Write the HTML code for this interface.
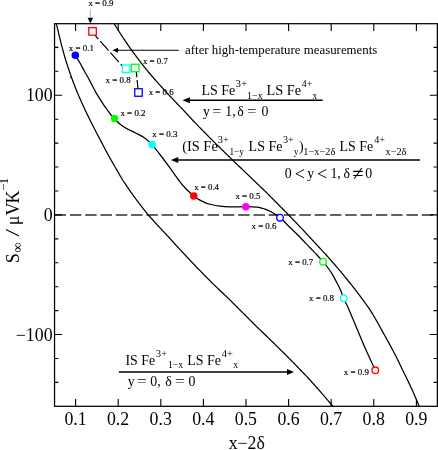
<!DOCTYPE html>
<html><head><meta charset="utf-8"><title>chart</title>
<style>
html,body{margin:0;padding:0;background:#fff;}
body{width:438px;height:450px;overflow:hidden;}
svg{display:block;will-change:transform;}
text{font-family:"Liberation Serif",serif;fill:#000;white-space:pre;}
.tx{filter:grayscale(1);}
</style></head><body>
<svg width="438" height="450" viewBox="0 0 438 450">
<rect width="438" height="450" fill="#fff"/>
<defs><clipPath id="cp"><rect x="54.55" y="23.70" width="382.80" height="382.60"/></clipPath></defs>
<line x1="54.55" y1="215.00" x2="437.35" y2="215.00" stroke="#303030" stroke-width="1.55" stroke-dasharray="11.5 3.8"/>
<g clip-path="url(#cp)" fill="none" stroke="#000" stroke-width="1.25" stroke-linejoin="round">
<path d="M55.76,21.07 L56.10,22.68 L56.46,24.30 L56.86,25.91 L57.25,27.53 L57.66,29.14 L58.04,30.76 L58.42,32.37 L58.80,33.99 L59.18,35.60 L59.57,37.22 L59.97,38.84 L60.37,40.45 L60.77,42.07 L61.19,43.68 L61.60,45.30 L62.03,46.91 L62.45,48.53 L62.89,50.14 L63.33,51.76 L63.78,53.37 L64.23,54.99 L64.69,56.60 L65.15,58.22 L65.62,59.83 L66.13,61.45 L66.65,63.06 L67.17,64.68 L67.70,66.29 L68.24,67.91 L68.78,69.53 L69.33,71.14 L69.89,72.76 L70.45,74.37 L71.02,75.99 L71.60,77.60 L72.19,79.22 L72.78,80.83 L73.39,82.45 L73.99,84.06 L74.61,85.68 L75.23,87.29 L75.86,88.91 L76.51,90.52 L77.18,92.14 L77.86,93.75 L78.55,95.37 L79.25,96.98 L79.95,98.60 L80.67,100.22 L81.39,101.83 L82.12,103.45 L82.85,105.06 L83.60,106.68 L84.35,108.29 L85.11,109.91 L85.87,111.52 L86.64,113.14 L87.42,114.75 L88.20,116.37 L89.00,117.98 L89.80,119.60 L90.61,121.21 L91.43,122.83 L92.26,124.44 L93.07,126.06 L93.89,127.68 L94.71,129.29 L95.54,130.91 L96.38,132.52 L97.23,134.14 L98.09,135.75 L98.96,137.37 L99.84,138.98 L100.70,140.60 L101.51,142.21 L102.33,143.83 L103.16,145.44 L104.00,147.06 L104.84,148.67 L105.70,150.29 L106.57,151.90 L107.45,153.52 L108.34,155.13 L109.24,156.75 L110.14,158.37 L111.06,159.98 L111.99,161.60 L112.92,163.21 L113.87,164.83 L114.77,166.44 L115.67,168.06 L116.59,169.67 L117.51,171.29 L118.44,172.90 L119.38,174.52 L120.34,176.13 L121.30,177.75 L122.27,179.36 L123.30,180.98 L124.38,182.59 L125.47,184.21 L126.56,185.83 L127.67,187.44 L128.79,189.06 L129.92,190.67 L131.05,192.29 L132.20,193.90 L133.36,195.52 L134.52,197.13 L135.70,198.75 L136.89,200.36 L138.08,201.98 L139.29,203.59 L140.51,205.21 L141.76,206.82 L143.03,208.44 L144.30,210.05 L145.59,211.67 L146.88,213.28 L148.18,214.90 L149.63,216.52 L151.09,218.13 L152.56,219.75 L154.04,221.36 L155.53,222.98 L157.03,224.59 L158.54,226.21 L160.05,227.82 L161.53,229.44 L163.01,231.05 L164.49,232.67 L165.99,234.28 L167.49,235.90 L169.00,237.51 L170.52,239.13 L172.01,240.74 L173.46,242.36 L174.92,243.97 L176.39,245.59 L177.87,247.21 L179.35,248.82 L180.84,250.44 L182.34,252.05 L183.84,253.67 L185.36,255.28 L186.87,256.90 L188.40,258.51 L189.93,260.13 L191.46,261.74 L193.00,263.36 L194.54,264.97 L196.09,266.59 L197.65,268.20 L199.21,269.82 L200.77,271.43 L202.34,273.05 L203.92,274.67 L205.50,276.28 L207.09,277.90 L208.68,279.51 L210.32,281.13 L211.98,282.74 L213.65,284.36 L215.32,285.97 L217.00,287.59 L218.68,289.20 L220.36,290.82 L222.05,292.43 L223.74,294.05 L225.43,295.66 L227.12,297.28 L228.82,298.89 L230.49,300.51 L232.09,302.12 L233.70,303.74 L235.32,305.36 L236.93,306.97 L238.54,308.59 L240.16,310.20 L241.77,311.82 L243.39,313.43 L245.01,315.05 L246.62,316.66 L248.24,318.28 L249.86,319.89 L251.47,321.51 L253.09,323.12 L254.70,324.74 L256.37,326.35 L258.05,327.97 L259.73,329.58 L261.41,331.20 L263.09,332.82 L264.76,334.43 L266.43,336.05 L268.10,337.66 L269.76,339.28 L271.43,340.89 L273.09,342.51 L274.74,344.12 L276.39,345.74 L278.04,347.35 L279.69,348.97 L281.33,350.58 L282.97,352.20 L284.60,353.81 L286.21,355.43 L287.82,357.04 L289.42,358.66 L291.02,360.27 L292.61,361.89 L294.20,363.51 L295.78,365.12 L297.35,366.74 L298.92,368.35 L300.48,369.97 L302.04,371.58 L303.59,373.20 L305.13,374.81 L306.67,376.43 L308.20,378.04 L309.67,379.66 L311.13,381.27 L312.59,382.89 L314.04,384.50 L315.48,386.12 L316.91,387.73 L318.34,389.35 L319.76,390.96 L321.17,392.58 L322.57,394.20 L323.97,395.81 L325.35,397.43 L326.73,399.04 L328.10,400.66 L329.46,402.27 L330.81,403.89 L332.15,405.50 L333.52,407.12 L334.89,408.73"/>
<path d="M70.2,77.7 L71.7,77.0" stroke-width="1.3"/>
<path d="M112.54,21.07 L113.56,22.68 L114.57,24.30 L115.56,25.91 L116.55,27.53 L117.56,29.14 L118.58,30.76 L119.61,32.37 L120.64,33.99 L121.69,35.60 L122.75,37.22 L123.82,38.84 L124.89,40.45 L125.98,42.07 L127.08,43.68 L128.19,45.30 L129.30,46.91 L130.43,48.53 L131.57,50.14 L132.76,51.76 L133.95,53.37 L135.15,54.99 L136.36,56.60 L137.58,58.22 L138.82,59.83 L140.06,61.45 L141.31,63.06 L142.57,64.68 L143.84,66.29 L145.12,67.91 L146.41,69.53 L147.71,71.14 L149.05,72.76 L150.44,74.37 L151.84,75.99 L153.25,77.60 L154.66,79.22 L156.09,80.83 L157.52,82.45 L158.96,84.06 L160.42,85.68 L161.88,87.29 L163.35,88.91 L164.83,90.52 L166.31,92.14 L167.81,93.75 L169.31,95.37 L170.82,96.98 L172.34,98.60 L173.87,100.22 L175.40,101.83 L176.95,103.45 L178.50,105.06 L180.06,106.68 L181.62,108.29 L183.20,109.91 L184.68,111.52 L186.17,113.14 L187.66,114.75 L189.16,116.37 L190.67,117.98 L192.18,119.60 L193.70,121.21 L195.23,122.83 L196.76,124.44 L198.29,126.06 L199.84,127.68 L201.42,129.29 L203.02,130.91 L204.62,132.52 L206.23,134.14 L207.84,135.75 L209.46,137.37 L211.08,138.98 L212.71,140.60 L214.34,142.21 L215.97,143.83 L217.61,145.44 L219.25,147.06 L220.89,148.67 L222.54,150.29 L224.19,151.90 L225.84,153.52 L227.49,155.13 L229.15,156.75 L230.81,158.37 L232.47,159.98 L234.15,161.60 L235.84,163.21 L237.53,164.83 L239.22,166.44 L240.90,168.06 L242.59,169.67 L244.28,171.29 L245.97,172.90 L247.66,174.52 L249.35,176.13 L251.04,177.75 L252.73,179.36 L254.42,180.98 L256.11,182.59 L257.79,184.21 L259.48,185.83 L261.16,187.44 L262.84,189.06 L264.50,190.67 L266.13,192.29 L267.76,193.90 L269.38,195.52 L271.00,197.13 L272.62,198.75 L274.24,200.36 L275.85,201.98 L277.46,203.59 L279.06,205.21 L280.66,206.82 L282.26,208.44 L283.85,210.05 L285.44,211.67 L287.02,213.28 L288.60,214.90 L290.17,216.52 L291.73,218.13 L293.28,219.75 L294.83,221.36 L296.37,222.98 L297.91,224.59 L299.44,226.21 L300.96,227.82 L302.48,229.44 L303.99,231.05 L305.49,232.67 L306.99,234.28 L308.48,235.90 L309.97,237.51 L311.49,239.13 L313.02,240.74 L314.54,242.36 L316.05,243.97 L317.56,245.59 L319.06,247.21 L320.55,248.82 L322.03,250.44 L323.51,252.05 L324.97,253.67 L326.43,255.28 L327.88,256.90 L329.32,258.51 L330.75,260.13 L332.18,261.74 L333.59,263.36 L335.00,264.97 L336.39,266.59 L337.78,268.20 L339.16,269.82 L340.52,271.43 L341.88,273.05 L343.22,274.67 L344.55,276.28 L345.88,277.90 L347.19,279.51 L348.49,281.13 L349.79,282.74 L351.07,284.36 L352.35,285.97 L353.61,287.59 L354.87,289.20 L356.12,290.82 L357.35,292.43 L358.58,294.05 L359.79,295.66 L361.00,297.28 L362.20,298.89 L363.38,300.51 L364.56,302.12 L365.72,303.74 L366.88,305.36 L368.02,306.97 L369.16,308.59 L370.27,310.20 L371.26,311.82 L372.23,313.43 L373.20,315.05 L374.15,316.66 L375.10,318.28 L376.04,319.89 L376.96,321.51 L377.88,323.12 L378.78,324.74 L379.68,326.35 L380.56,327.97 L381.44,329.58 L382.35,331.20 L383.26,332.82 L384.16,334.43 L385.06,336.05 L385.94,337.66 L386.82,339.28 L387.71,340.89 L388.61,342.51 L389.50,344.12 L390.39,345.74 L391.26,347.35 L392.13,348.97 L392.98,350.58 L393.83,352.20 L394.66,353.81 L395.49,355.43 L396.31,357.04 L397.12,358.66 L397.92,360.27 L398.71,361.89 L399.49,363.51 L400.26,365.12 L401.03,366.74 L401.78,368.35 L402.53,369.97 L403.35,371.58 L404.17,373.20 L404.98,374.81 L405.78,376.43 L406.57,378.04 L407.36,379.66 L408.13,381.27 L408.90,382.89 L409.66,384.50 L410.41,386.12 L411.15,387.73 L411.89,389.35 L412.62,390.96 L413.35,392.58 L414.07,394.20 L414.78,395.81 L415.48,397.43 L416.18,399.04 L416.87,400.66 L417.55,402.27 L418.23,403.89 L418.89,405.50 L419.50,407.12 L420.07,408.73"/>
<path d="M75.30,55.30 C76.02,56.47 78.05,59.60 79.60,62.30 C81.15,65.00 82.92,68.45 84.60,71.50 C86.28,74.55 88.03,77.52 89.70,80.60 C91.37,83.68 93.40,87.75 94.60,90.00 C95.80,92.25 95.61,91.97 96.90,94.10 C98.19,96.23 100.53,100.05 102.35,102.80 C104.17,105.55 106.27,108.47 107.80,110.60 C109.33,112.73 110.38,114.27 111.50,115.60 C112.62,116.93 113.22,117.30 114.50,118.60 C115.78,119.90 117.27,121.80 119.20,123.40 C121.13,125.00 123.35,126.60 126.10,128.20 C128.85,129.80 132.55,131.33 135.70,133.00 C138.85,134.67 142.27,136.27 145.00,138.20 C147.73,140.13 150.55,143.07 152.10,144.60 C153.65,146.13 152.80,145.50 154.30,147.40 C155.80,149.30 158.43,152.50 161.10,156.00 C163.77,159.50 167.25,164.20 170.30,168.40 C173.35,172.60 176.87,177.88 179.40,181.20 C181.93,184.52 183.11,185.83 185.50,188.30 C187.89,190.77 191.50,194.12 193.75,196.00 C196.00,197.88 197.12,198.50 199.00,199.60 C200.88,200.70 203.17,201.82 205.00,202.60 C206.83,203.38 207.50,203.65 210.00,204.25 C212.50,204.85 216.67,205.77 220.00,206.20 C223.33,206.63 225.70,206.77 230.00,206.85 C234.30,206.93 241.30,206.66 245.80,206.70 C250.30,206.74 254.30,206.83 257.00,207.10 C259.70,207.37 260.67,207.95 262.00,208.30 C263.33,208.65 263.67,208.72 265.00,209.20 C266.33,209.68 268.25,210.32 270.00,211.20 C271.75,212.08 273.83,213.42 275.50,214.50 C277.17,215.58 278.72,216.70 280.00,217.70 C281.28,218.70 281.95,219.28 283.20,220.50 C284.45,221.72 284.98,222.50 287.50,225.00 C290.02,227.50 294.55,231.72 298.30,235.50 C302.05,239.28 306.88,244.45 310.00,247.70 C313.12,250.95 314.82,252.67 317.00,255.00 C319.18,257.33 321.58,260.00 323.06,261.67 C324.54,263.34 324.43,263.00 325.90,265.00 C327.37,267.00 330.07,270.73 331.90,273.70 C333.73,276.67 335.47,280.07 336.90,282.80 C338.33,285.53 339.67,288.27 340.50,290.10 C341.33,291.93 341.38,292.45 341.90,293.80 C342.42,295.15 343.05,296.82 343.65,298.20 C344.25,299.58 344.59,300.13 345.50,302.10 C346.41,304.07 346.75,304.52 349.10,310.00 C351.45,315.48 356.78,328.33 359.60,335.00 C362.42,341.67 363.38,344.12 366.00,350.00 C368.62,355.88 373.75,366.92 375.30,370.30"/>
</g>
<rect x="54.55" y="23.70" width="382.80" height="382.60" fill="none" stroke="#000" stroke-width="1.25"/>
<path d="M75.60,23.70 v7.2 M75.60,406.30 v-7.2 M118.20,23.70 v7.2 M118.20,406.30 v-7.2 M160.80,23.70 v7.2 M160.80,406.30 v-7.2 M203.40,23.70 v7.2 M203.40,406.30 v-7.2 M246.00,23.70 v7.2 M246.00,406.30 v-7.2 M288.60,23.70 v7.2 M288.60,406.30 v-7.2 M331.20,23.70 v7.2 M331.20,406.30 v-7.2 M373.80,23.70 v7.2 M373.80,406.30 v-7.2 M416.40,23.70 v7.2 M416.40,406.30 v-7.2 M54.55,382.41 h3.8 M437.35,382.41 h-3.8 M54.55,358.48 h3.8 M437.35,358.48 h-3.8 M54.55,334.55 h7.5 M437.35,334.55 h-7.5 M54.55,310.62 h3.8 M437.35,310.62 h-3.8 M54.55,286.69 h3.8 M437.35,286.69 h-3.8 M54.55,262.76 h3.8 M437.35,262.76 h-3.8 M54.55,238.83 h3.8 M437.35,238.83 h-3.8 M54.55,214.90 h7.5 M437.35,214.90 h-7.5 M54.55,190.97 h3.8 M437.35,190.97 h-3.8 M54.55,167.04 h3.8 M437.35,167.04 h-3.8 M54.55,143.11 h3.8 M437.35,143.11 h-3.8 M54.55,119.18 h3.8 M437.35,119.18 h-3.8 M54.55,95.25 h7.5 M437.35,95.25 h-7.5 M54.55,71.32 h3.8 M437.35,71.32 h-3.8 M54.55,47.39 h3.8 M437.35,47.39 h-3.8" stroke="#000" stroke-width="1.1" fill="none"/>
<path d="M92.2,32.1 L125.7,69.7 M136.0,68 L138.3,92.5" stroke="#000" stroke-width="1.2" fill="none" stroke-dasharray="12.6 2.8" stroke-dashoffset="3.3"/>
<circle cx="75.30" cy="55.30" r="3.75" fill="#0000ff"/>
<circle cx="114.50" cy="118.60" r="3.75" fill="#00ff00"/>
<circle cx="152.10" cy="144.60" r="3.75" fill="#00ffff"/>
<circle cx="193.75" cy="196.00" r="3.75" fill="#ff0000"/>
<circle cx="245.80" cy="206.70" r="3.75" fill="#ff00ff"/>
<circle cx="280.00" cy="217.70" r="3.3" fill="#fff" stroke="#0000ff" stroke-width="1.3"/>
<circle cx="323.06" cy="261.67" r="3.3" fill="#fff" stroke="#00ff00" stroke-width="1.3"/>
<circle cx="343.65" cy="298.20" r="3.3" fill="#fff" stroke="#00ffff" stroke-width="1.3"/>
<circle cx="375.30" cy="370.30" r="3.3" fill="#fff" stroke="#ff0000" stroke-width="1.3"/>
<rect x="88.80" y="27.65" width="7.5" height="7.5" fill="#fff" stroke="#ff0000" stroke-width="1.3"/>
<rect x="122.45" y="65.05" width="7.5" height="7.5" fill="#fff" stroke="#00ffff" stroke-width="1.3"/>
<rect x="131.45" y="64.25" width="7.5" height="7.5" fill="#fff" stroke="#00ff00" stroke-width="1.3"/>
<rect x="134.75" y="88.75" width="7.5" height="7.5" fill="#fff" stroke="#0000ff" stroke-width="1.3"/>
<line x1="117.05" y1="50.27" x2="178.80" y2="50.27" stroke="#000" stroke-width="1.20"/>
<path d="M112.45,50.27 l5.60,-2.60 v5.20 z" fill="#000"/>
<line x1="188.95" y1="100.25" x2="322.60" y2="100.25" stroke="#000" stroke-width="1.50"/>
<path d="M182.45,100.25 l7.50,-3.00 v6.00 z" fill="#000"/>
<line x1="177.30" y1="160.07" x2="420.00" y2="160.07" stroke="#000" stroke-width="1.50"/>
<path d="M170.80,160.07 l7.50,-3.00 v6.00 z" fill="#000"/>
<line x1="118.80" y1="372.00" x2="288.00" y2="372.00" stroke="#000" stroke-width="1.40"/>
<path d="M294.00,372.00 l-7.00,-3.00 v6.00 z" fill="#000"/>
<line x1="90.3" y1="9.6" x2="90.3" y2="19" stroke="#999" stroke-width="0.8"/>
<path d="M90.3,23.4 l-2.7,-5.6 h5.4 z" fill="#000"/>
<g class="tx">
<text x="75.50" y="425.10" font-size="17.80" text-anchor="middle">0.1</text>
<text x="118.10" y="425.10" font-size="17.80" text-anchor="middle">0.2</text>
<text x="160.70" y="425.10" font-size="17.80" text-anchor="middle">0.3</text>
<text x="203.30" y="425.10" font-size="17.80" text-anchor="middle">0.4</text>
<text x="245.90" y="425.10" font-size="17.80" text-anchor="middle">0.5</text>
<text x="288.50" y="425.10" font-size="17.80" text-anchor="middle">0.6</text>
<text x="331.10" y="425.10" font-size="17.80" text-anchor="middle">0.7</text>
<text x="373.70" y="425.10" font-size="17.80" text-anchor="middle">0.8</text>
<text x="416.30" y="425.10" font-size="17.80" text-anchor="middle">0.9</text>
<text x="25.88" y="101.25" font-size="17.80">100</text>
<text x="43.68" y="220.90" font-size="17.80">0</text>
<text x="15.84" y="340.55" font-size="17.80">−100</text>
<text x="228.74" y="448.90" font-size="17.80" textLength="36.12" lengthAdjust="spacingAndGlyphs">x−2δ</text>
<text transform="translate(18.80,263.15) rotate(-90)" font-size="18.00">S</text>
<text transform="translate(21.70,252.55) rotate(-90)" font-size="14.00">∞</text>
<text transform="translate(18.80,236.40) rotate(-90)" font-size="18.00" textLength="7.60" lengthAdjust="spacingAndGlyphs">/</text>
<text transform="translate(18.80,225.20) rotate(-90)" font-size="18.00">μV</text>
<text transform="translate(18.80,203.40) rotate(-90)" font-size="18.00">K</text>
<text transform="translate(8.20,190.70) rotate(-90)" font-size="12.80">−</text>
<text transform="translate(8.20,184.25) rotate(-90)" font-size="12.80">1</text>
<text x="88.42" y="6.20" font-size="8.85" textLength="25.04" lengthAdjust="spacingAndGlyphs" stroke="#000" stroke-width="0.18">x = 0.9</text>
<text x="68.82" y="51.30" font-size="8.85" textLength="25.22" lengthAdjust="spacingAndGlyphs" stroke="#000" stroke-width="0.18">x = 0.1</text>
<text x="142.92" y="63.80" font-size="8.85" textLength="24.93" lengthAdjust="spacingAndGlyphs" stroke="#000" stroke-width="0.18">x = 0.7</text>
<text x="105.62" y="83.20" font-size="8.85" textLength="25.02" lengthAdjust="spacingAndGlyphs" stroke="#000" stroke-width="0.18">x = 0.8</text>
<text x="148.72" y="94.80" font-size="8.85" textLength="24.94" lengthAdjust="spacingAndGlyphs" stroke="#000" stroke-width="0.18">x = 0.6</text>
<text x="120.42" y="115.90" font-size="8.85" textLength="25.17" lengthAdjust="spacingAndGlyphs" stroke="#000" stroke-width="0.18">x = 0.2</text>
<text x="152.32" y="137.20" font-size="8.85" textLength="25.03" lengthAdjust="spacingAndGlyphs" stroke="#000" stroke-width="0.18">x = 0.3</text>
<text x="194.22" y="189.60" font-size="8.85" textLength="24.82" lengthAdjust="spacingAndGlyphs" stroke="#000" stroke-width="0.18">x = 0.4</text>
<text x="235.42" y="199.20" font-size="8.85" textLength="25.03" lengthAdjust="spacingAndGlyphs" stroke="#000" stroke-width="0.18">x = 0.5</text>
<text x="251.52" y="229.20" font-size="8.85" textLength="24.94" lengthAdjust="spacingAndGlyphs" stroke="#000" stroke-width="0.18">x = 0.6</text>
<text x="288.32" y="265.20" font-size="8.85" textLength="24.93" lengthAdjust="spacingAndGlyphs" stroke="#000" stroke-width="0.18">x = 0.7</text>
<text x="309.02" y="301.40" font-size="8.85" textLength="25.02" lengthAdjust="spacingAndGlyphs" stroke="#000" stroke-width="0.18">x = 0.8</text>
<text x="343.82" y="374.90" font-size="8.85" textLength="25.04" lengthAdjust="spacingAndGlyphs" stroke="#000" stroke-width="0.18">x = 0.9</text>
<text x="185.05" y="54.20" font-size="12.85" textLength="192.32" lengthAdjust="spacingAndGlyphs">after high-temperature measurements</text>
<text x="201.40" y="94.70" font-size="13.80" textLength="33.89" lengthAdjust="spacingAndGlyphs">LS Fe</text>
<text x="235.58" y="87.10" font-size="9.60" textLength="11.55" lengthAdjust="spacingAndGlyphs">3+</text>
<text x="247.12" y="98.50" font-size="9.60" textLength="15.60" lengthAdjust="spacingAndGlyphs">1−x</text>
<text x="266.59" y="94.70" font-size="13.80" textLength="34.61" lengthAdjust="spacingAndGlyphs">LS Fe</text>
<text x="301.81" y="87.10" font-size="9.60" textLength="10.47" lengthAdjust="spacingAndGlyphs">4+</text>
<text x="312.42" y="98.50" font-size="9.60" textLength="4.70" lengthAdjust="spacingAndGlyphs">x</text>
<text x="203.03" y="115.50" font-size="13.80">y</text>
<text x="212.30" y="115.50" font-size="13.80" textLength="9.09" lengthAdjust="spacingAndGlyphs">=</text>
<text x="225.29" y="115.50" font-size="13.80">1,</text>
<text x="237.28" y="115.50" font-size="13.80">δ</text>
<text x="247.20" y="115.50" font-size="13.80" textLength="9.09" lengthAdjust="spacingAndGlyphs">=</text>
<text x="261.47" y="115.50" font-size="13.80">0</text>
<text x="182.17" y="151.20" font-size="13.80" textLength="35.63" lengthAdjust="spacingAndGlyphs">(IS Fe</text>
<text x="217.81" y="143.40" font-size="9.60" textLength="11.00" lengthAdjust="spacingAndGlyphs">3+</text>
<text x="229.48" y="154.80" font-size="9.60" textLength="14.55" lengthAdjust="spacingAndGlyphs">1−y</text>
<text x="248.60" y="151.20" font-size="13.80" textLength="33.89" lengthAdjust="spacingAndGlyphs">LS Fe</text>
<text x="283.02" y="143.40" font-size="9.60" textLength="10.78" lengthAdjust="spacingAndGlyphs">3+</text>
<text x="293.89" y="154.80" font-size="9.60" textLength="4.34" lengthAdjust="spacingAndGlyphs">y</text>
<text x="299.05" y="151.20" font-size="13.80" textLength="4.67" lengthAdjust="spacingAndGlyphs">)</text>
<text x="303.29" y="154.80" font-size="9.60" textLength="32.10" lengthAdjust="spacingAndGlyphs">1−x−2δ</text>
<text x="339.60" y="151.20" font-size="13.80" textLength="33.68" lengthAdjust="spacingAndGlyphs">LS Fe</text>
<text x="374.30" y="143.40" font-size="9.60" textLength="10.79" lengthAdjust="spacingAndGlyphs">4+</text>
<text x="385.51" y="154.80" font-size="9.60" textLength="20.88" lengthAdjust="spacingAndGlyphs">x−2δ</text>
<text x="284.67" y="178.20" font-size="13.80">0</text>
<text x="294.80" y="179.60" font-size="18.00">&lt;</text>
<text x="307.33" y="178.20" font-size="13.80">y</text>
<text x="317.00" y="179.60" font-size="18.00">&lt;</text>
<text x="330.39" y="178.20" font-size="13.80">1,</text>
<text x="343.58" y="178.20" font-size="13.80">δ</text>
<text x="352.15" y="180.20" font-size="20.50">≠</text>
<text x="365.27" y="178.20" font-size="13.80">0</text>
<text x="125.50" y="364.50" font-size="13.80" textLength="29.58" lengthAdjust="spacingAndGlyphs">IS Fe</text>
<text x="156.12" y="356.90" font-size="9.60" textLength="10.78" lengthAdjust="spacingAndGlyphs">3+</text>
<text x="167.94" y="367.90" font-size="9.60" textLength="15.28" lengthAdjust="spacingAndGlyphs">1−x</text>
<text x="187.20" y="364.50" font-size="13.80" textLength="33.89" lengthAdjust="spacingAndGlyphs">LS Fe</text>
<text x="221.70" y="356.90" font-size="9.60" textLength="11.11" lengthAdjust="spacingAndGlyphs">4+</text>
<text x="233.22" y="367.90" font-size="9.60" textLength="4.80" lengthAdjust="spacingAndGlyphs">x</text>
<text x="127.73" y="385.90" font-size="13.80">y</text>
<text x="137.14" y="385.90" font-size="13.80" textLength="9.70" lengthAdjust="spacingAndGlyphs">=</text>
<text x="150.27" y="385.90" font-size="13.80">0,</text>
<text x="165.18" y="385.90" font-size="13.80">δ</text>
<text x="175.04" y="385.90" font-size="13.80" textLength="9.70" lengthAdjust="spacingAndGlyphs">=</text>
<text x="188.47" y="385.90" font-size="13.80">0</text>
</g>
</svg></body></html>
